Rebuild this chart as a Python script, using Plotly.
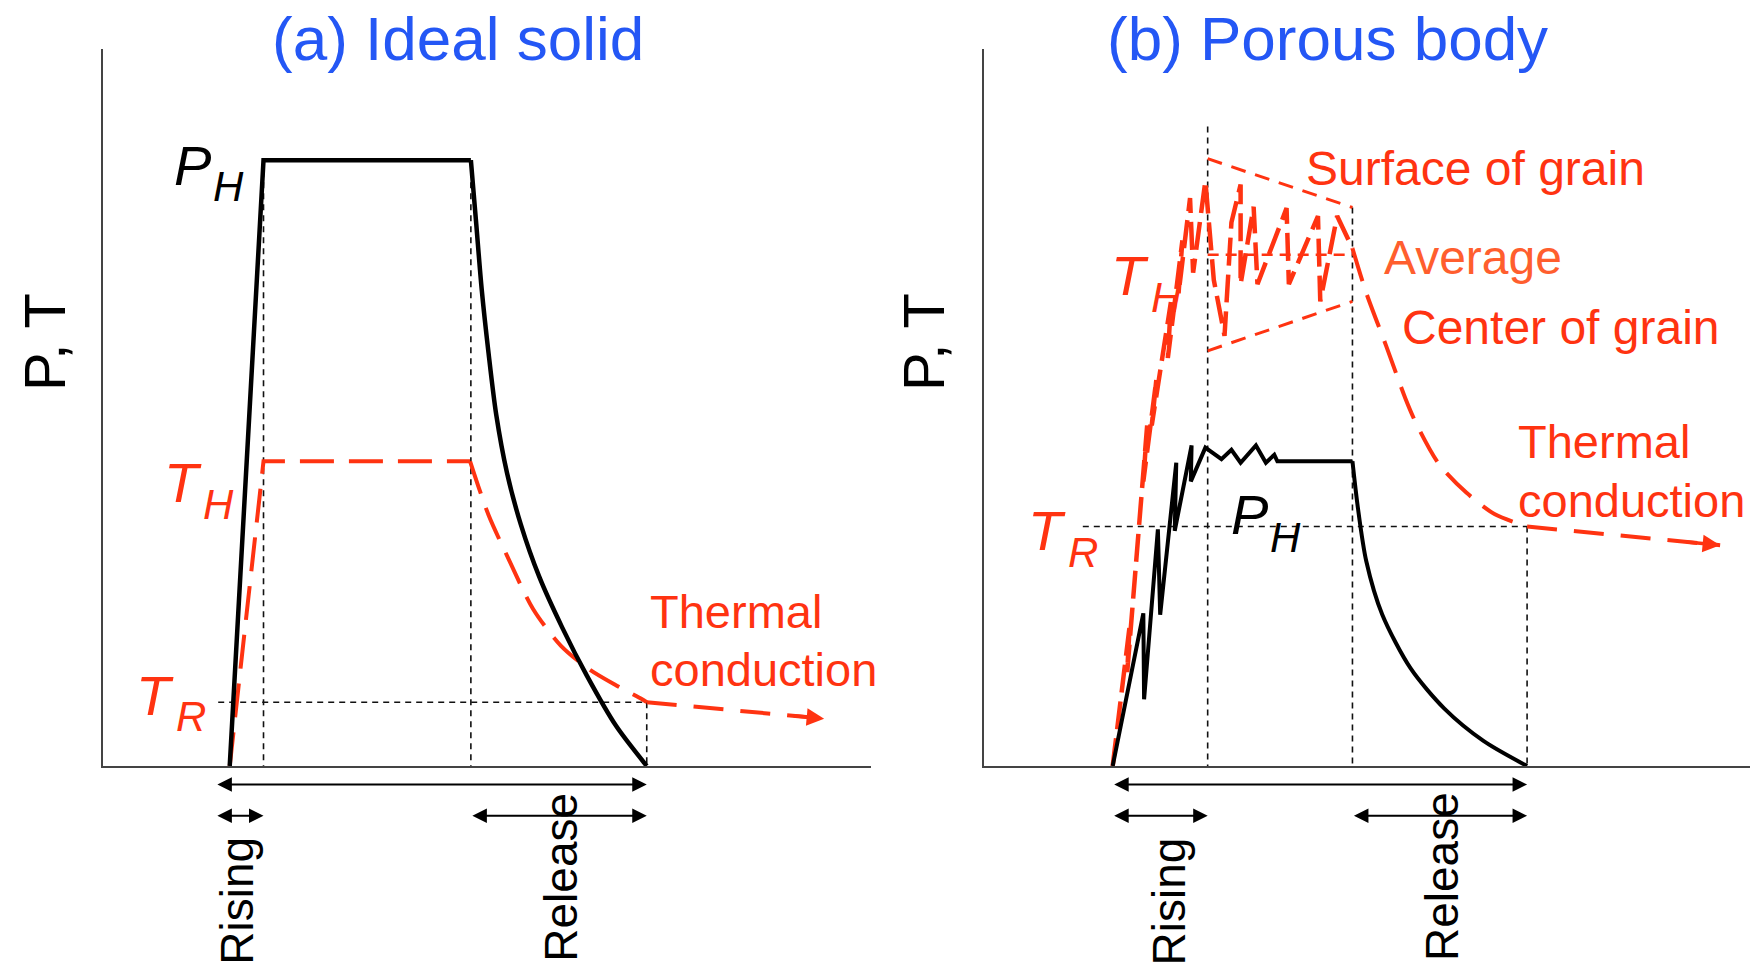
import plotly.graph_objects as go

# ---------------- data (time in arbitrary units 0-100, value 0-100) ----------------
# (a) Ideal solid
a_P_rise_t = [16.5, 20.9, 47.9]
a_P_rise_v = [0.0, 84.5, 84.5]
a_P_rel_t = [47.9, 48.6, 49.3, 50.2, 51.2, 52.6, 54.4, 56.8, 59.8, 63.0, 66.8, 70.8]
a_P_rel_v = [84.5, 75.6, 66.6, 57.6, 49.0, 40.9, 33.7, 26.4, 19.3, 12.6, 5.6, 0.0]
a_T_rise_t = [16.5, 20.9, 47.8]
a_T_rise_v = [0.0, 42.5, 42.5]
a_T_rel_t = [47.8, 50.2, 52.8, 56.0, 59.6, 63.3, 66.9, 70.2, 70.8]
a_T_rel_v = [42.5, 35.0, 28.9, 21.9, 16.8, 13.5, 11.2, 9.3, 8.9]
a_tail_t = [70.8, 93.9]
a_tail_v = [8.9, 6.6]
a_marks_t = [14.7, 20.9, 47.9, 70.8]      # start, end of rising, start of release, end
a_levels = {"PH": 84.5, "TH": 42.5, "TR": 8.9}

# (b) Porous body
b_P_rise_t = [16.8, 20.8, 20.9, 22.7, 23.0, 25.1, 24.9, 27.1, 27.0, 28.9, 31.0, 32.3,
              33.5, 35.5, 36.8, 37.9, 38.3, 48.1]
b_P_rise_v = [0.0, 21.3, 9.3, 33.0, 21.1, 42.3, 32.8, 44.7, 39.7, 44.4, 42.8, 44.1,
              42.3, 44.7, 42.3, 43.4, 42.5, 42.5]
b_P_rel_t = [48.1, 48.8, 49.9, 52.0, 55.7, 60.1, 65.2, 70.9]
b_P_rel_v = [42.5, 36.1, 28.6, 21.1, 13.6, 8.0, 3.5, 0.0]
b_T_rise_t = [16.8, 19.0, 18.7, 20.2, 19.7, 21.3, 20.8, 22.5, 21.9, 24.4, 24.0, 25.9,
              25.4, 26.9, 27.3, 28.9, 30.0, 31.4, 32.3, 33.5, 33.5, 35.2, 35.7, 39.5,
              39.8, 43.6, 43.9, 46.1, 48.1]
b_T_rise_v = [0.0, 19.4, 13.1, 33.4, 25.6, 47.5, 39.7, 53.9, 47.5, 64.7, 56.9, 73.3,
              65.9, 79.2, 68.8, 81.6, 67.8, 60.0, 75.8, 81.1, 67.2, 78.0, 67.2, 77.8,
              67.2, 76.7, 64.8, 76.7, 72.2]
b_T_rel_t = [48.1, 49.9, 52.5, 55.0, 56.5, 59.4, 63.0, 66.7, 70.9]
b_T_rel_v = [72.2, 66.0, 58.6, 51.3, 47.6, 42.1, 38.1, 35.1, 33.4]
b_tail_t = [70.9, 96.1]
b_tail_v = [33.4, 30.8]
b_surface_t, b_surface_v = [29.2, 48.1], [84.7, 77.9]
b_center_t, b_center_v = [29.2, 48.1], [57.9, 64.8]
b_average_t, b_average_v = [29.2, 48.1], [71.3, 71.3]
b_marks_t = [16.8, 29.2, 48.1, 70.9]
b_levels = {"PH": 42.5, "TR": 33.4}

# ---------------- styling ----------------
W, H = 1757, 965
RED = "#FF3311"
ORANGE = "#FF5E2E"
BLUE = "#2457F5"
FONT = "Liberation Sans, Arial, Helvetica, sans-serif"
ARROW_Y_LONG = 1 - 784.5 / H      # paper height of the total-duration arrow
ARROW_Y_SHORT = 1 - 815.7 / H     # paper height of the rising / release arrows

fig = go.Figure()


def line(t, v, xa, ya, color, width, dash="solid", shape="linear"):
    fig.add_trace(go.Scatter(x=t, y=v, xaxis=xa, yaxis=ya, mode="lines",
                             line=dict(color=color, width=width, dash=dash,
                                       shape=shape, smoothing=0.8),
                             hoverinfo="skip", showlegend=False))


def guide(t, v, xa, ya):
    line(t, v, xa, ya, "#111111", 1.6, "6px,5px")


def label(text, x, y, xref, yref, size, color, xanchor="center", angle=0):
    fig.add_annotation(x=x, y=y, xref=xref, yref=yref, text=text, showarrow=False,
                       xanchor=xanchor, yanchor="middle", textangle=angle,
                       font=dict(family=FONT, size=size, color=color))


def sub_label(main, sub, x, y, xref, yref, color, dx, dy):
    label("<i>%s</i>" % main, x, y, xref, yref, 56, color)
    label("<i>%s</i>" % sub, x + dx, y + dy, xref, yref, 42, color)


def span_arrow(t0, t1, y, xref):
    fig.add_annotation(x=t1, y=y, ax=t0, ay=0, xref=xref, yref="paper",
                       axref=xref, ayref="pixel", text="", showarrow=True,
                       arrowhead=2, startarrowhead=2, arrowside="end+start",
                       arrowsize=1.45, startarrowsize=1.45, arrowwidth=2,
                       arrowcolor="black", standoff=0, startstandoff=0)


def tip_arrow(t, v, xref, yref):
    fig.add_annotation(x=t[1], y=v[1], ax=t[1] - 0.18 * (t[1] - t[0]),
                       ay=v[1] - 0.18 * (v[1] - v[0]), xref=xref, yref=yref,
                       axref=xref, ayref=yref, text="", showarrow=True,
                       arrowhead=2, arrowsize=1.0, arrowwidth=3.5,
                       arrowcolor=RED, standoff=0)


# ---------- panel (a) ----------
at1, at2, at3 = a_marks_t[1], a_marks_t[2], a_marks_t[3]
guide([at1, at1], [a_levels["PH"], 0], "x", "y")
guide([at2, at2], [a_levels["PH"], 0], "x", "y")
guide([at3, at3], [a_levels["TR"], 0], "x", "y")
guide([15.0, at3], [a_levels["TR"], a_levels["TR"]], "x", "y")
line(a_T_rise_t, a_T_rise_v, "x", "y", RED, 4, "34px,15px")
line(a_T_rel_t, a_T_rel_v, "x", "y", RED, 4, "34px,15px", "spline")
line(a_tail_t, a_tail_v, "x", "y", RED, 4, "30px,17px")
tip_arrow(a_tail_t, a_tail_v, "x", "y")
line(a_P_rise_t, a_P_rise_v, "x", "y", "black", 4.5)
line(a_P_rel_t, a_P_rel_v, "x", "y", "black", 4.5, shape="spline")

span_arrow(a_marks_t[0], at3, ARROW_Y_LONG, "x")
span_arrow(a_marks_t[0], at1, ARROW_Y_SHORT, "x")
span_arrow(at2, at3, ARROW_Y_SHORT, "x")

# ---------- panel (b) ----------
bt1, bt2, bt3 = b_marks_t[1], b_marks_t[2], b_marks_t[3]
guide([bt1, bt1], [89.2, 0], "x2", "y2")
guide([bt2, bt2], [b_surface_v[1], 0], "x2", "y2")
guide([bt3, bt3], [b_levels["TR"], 0], "x2", "y2")
guide([12.9, bt3], [b_levels["TR"], b_levels["TR"]], "x2", "y2")
line(b_surface_t, b_surface_v, "x2", "y2", RED, 3, "15px,10px")
line(b_center_t, b_center_v, "x2", "y2", RED, 3, "15px,10px")
line(b_average_t, b_average_v, "x2", "y2", RED, 2.5, "11px,7px")
line(b_T_rise_t, b_T_rise_v, "x2", "y2", RED, 4.5, "28px,9px")
line(b_T_rel_t, b_T_rel_v, "x2", "y2", RED, 4, "34px,15px", "spline")
line(b_tail_t, b_tail_v, "x2", "y2", RED, 4, "30px,17px")
tip_arrow(b_tail_t, b_tail_v, "x2", "y2")
line(b_P_rise_t, b_P_rise_v, "x2", "y2", "black", 4)
line(b_P_rel_t, b_P_rel_v, "x2", "y2", "black", 4, shape="spline")

span_arrow(b_marks_t[0], bt3, ARROW_Y_LONG, "x2")
span_arrow(b_marks_t[0], bt1, ARROW_Y_SHORT, "x2")
span_arrow(bt2, bt3, ARROW_Y_SHORT, "x2")

# ---------- text ----------
label("(a) Ideal solid", 0.2607, 1 - 38 / H, "paper", "paper", 62, BLUE)
label("(b) Porous body", 0.7558, 1 - 38 / H, "paper", "paper", 62, BLUE)
label("P, T", 0.0256, 0.6456, "paper", "paper", 58, "black", angle=-90)
label("P, T", 0.5259, 0.6456, "paper", "paper", 58, "black", angle=-90)

sub_label("P", "H", 11.7, 83.8, "x", "y", "black", 4.7, -3.0)
sub_label("T", "H", 10.4, 39.5, "x", "y", RED, 4.7, -3.0)
sub_label("T", "R", 6.8, 9.9, "x", "y", RED, 4.7, -3.0)
label("Thermal", 71.0, 21.5, "x", "y", 47, RED, xanchor="left")
label("conduction", 71.0, 13.5, "x", "y", 47, RED, xanchor="left")
label("Rising", 17.4, 0.0663, "x", "paper", 46, "black", angle=-90)
label("Release", 59.6, 0.0912, "x", "paper", 46, "black", angle=-90)

sub_label("P", "H", 34.6, 35.1, "x2", "y2", "black", 4.7, -3.3)
sub_label("T", "H", 19.1, 68.4, "x2", "y2", RED, 4.7, -3.1)
sub_label("T", "R", 8.2, 32.9, "x2", "y2", RED, 4.7, -3.1)
label("Surface of grain", 64.1, 83.4, "x2", "y2", 48, RED)
label("Average", 63.8, 70.9, "x2", "y2", 48, ORANGE)
label("Center of grain", 75.3, 61.1, "x2", "y2", 48, RED)
label("Thermal", 69.5, 45.2, "x2", "y2", 47, RED, xanchor="left")
label("conduction", 69.5, 37.0, "x2", "y2", 47, RED, xanchor="left")
label("Rising", 24.2, 0.0663, "x2", "paper", 46, "black", angle=-90)
label("Release", 59.8, 0.0912, "x2", "paper", 46, "black", angle=-90)

# ---------- axes ----------
ydom = [1 - 766 / H, 1 - 49 / H]
ax_common = dict(range=[0, 100], showgrid=False, zeroline=False, showticklabels=False,
                 ticks="", showline=True, linecolor="#444444", linewidth=2,
                 fixedrange=True)
fig.update_layout(
    width=W, height=H,
    margin=dict(l=0, r=0, t=0, b=0),
    paper_bgcolor="white", plot_bgcolor="white",
    showlegend=False,
    xaxis=dict(domain=[103 / W, 871 / W], anchor="y", **ax_common),
    yaxis=dict(domain=ydom, anchor="x", **ax_common),
    xaxis2=dict(domain=[984 / W, 1750 / W], anchor="y2", **ax_common),
    yaxis2=dict(domain=ydom, anchor="x2", **ax_common),
)

fig.write_html("out.html")
